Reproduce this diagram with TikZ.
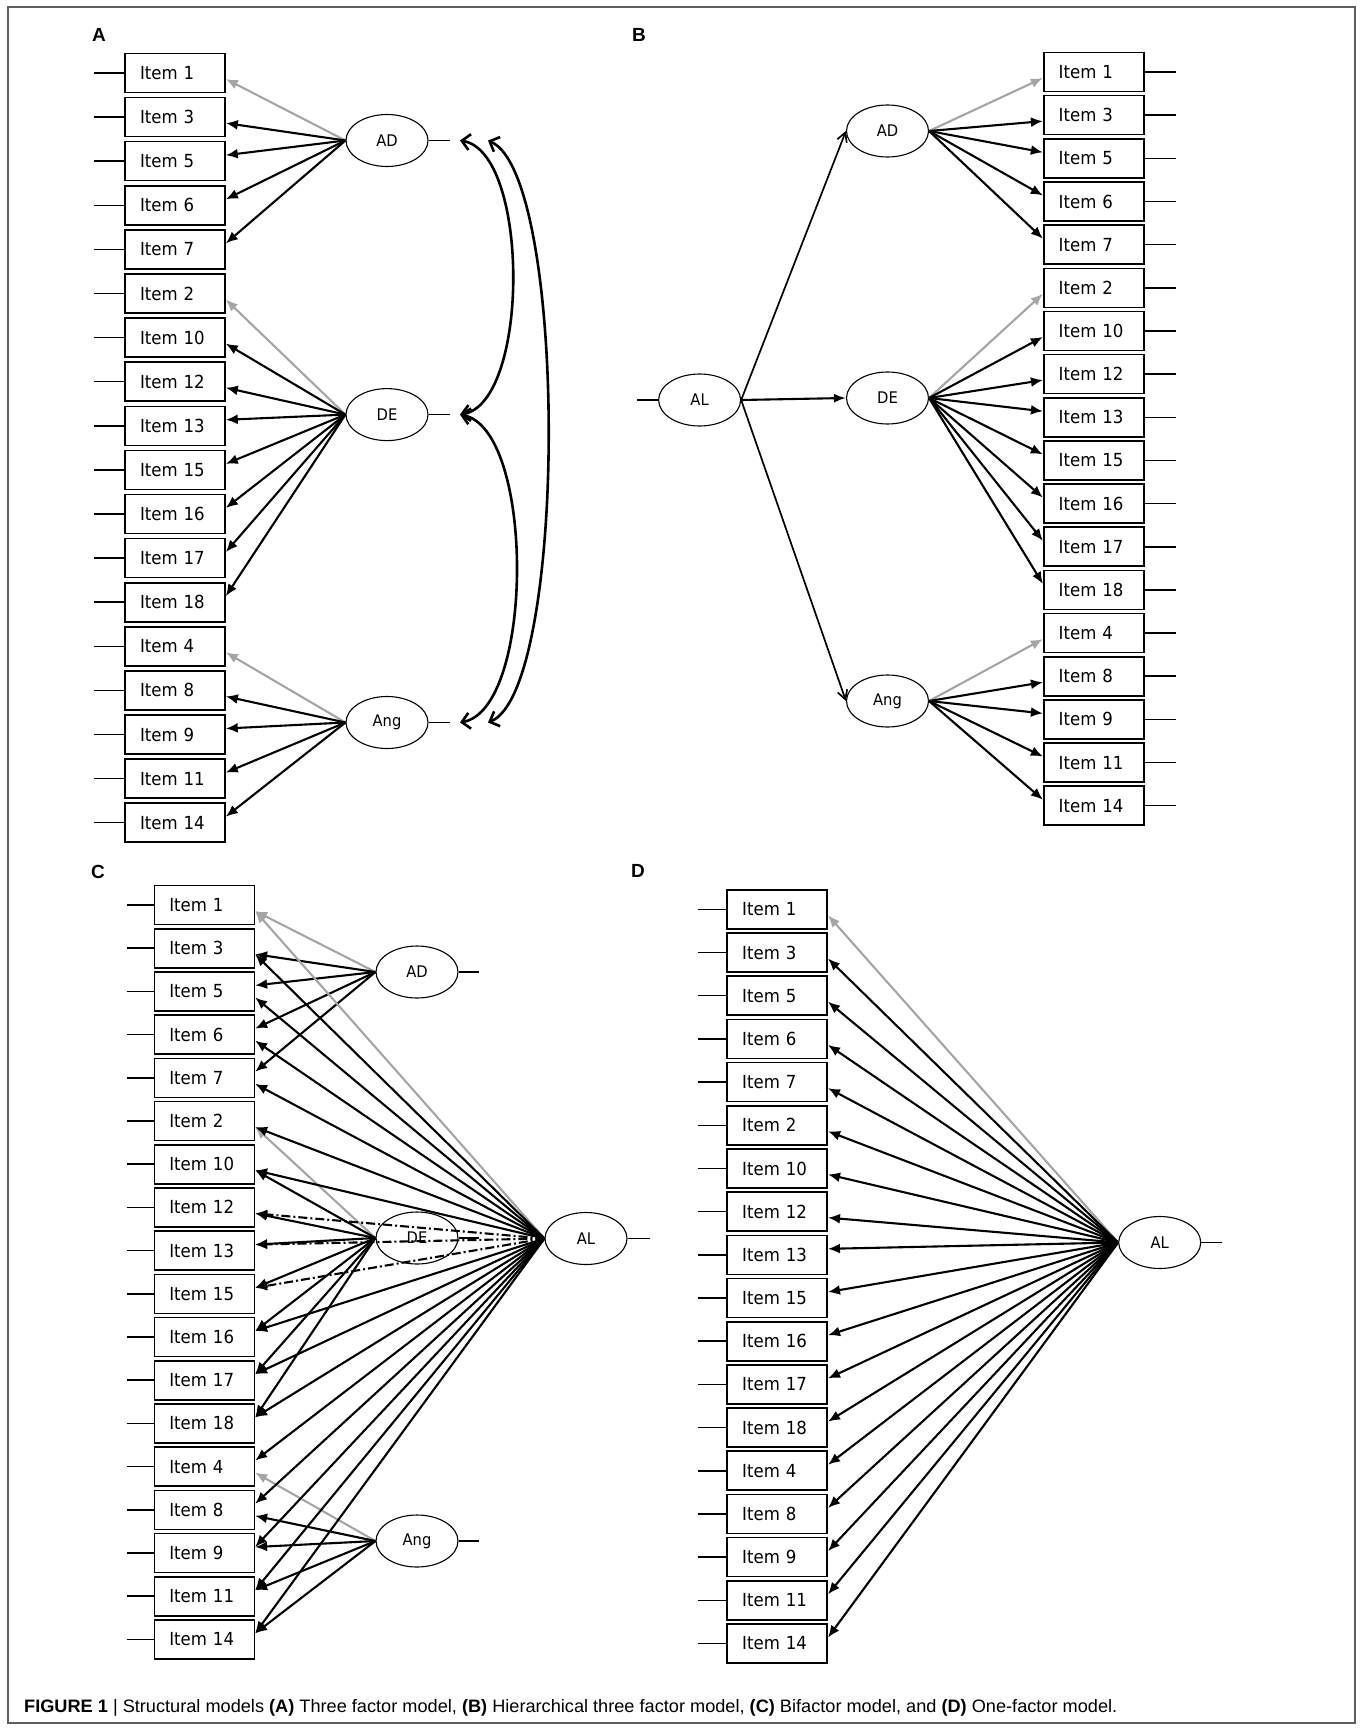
\documentclass[tikz,border=0pt]{standalone}
\usepackage{fontspec}
\usepackage{graphicx}
\usetikzlibrary{arrows.meta,calc,shapes.geometric}
\setmainfont{Liberation Sans}
\newfontfamily\itemfont[FakeStretch=0.92]{DejaVu Sans}
\definecolor{loadgray}{RGB}{165,165,165}
\definecolor{framegray}{RGB}{95,95,95}

\begin{document}
\begin{tikzpicture}[x=1pt,y=-1pt,
  item/.style={draw, line width=1.6pt, minimum height=39pt, text width=70pt,
    inner xsep=15pt, inner ysep=0pt, align=left,
    font=\itemfont\fontsize{18}{19}\selectfont},
  latent/.style={draw, ellipse, line width=1.1pt, minimum width=82pt,
    minimum height=52pt, inner sep=0pt,
    font=\itemfont\fontsize{16}{17}\selectfont},
  resid/.style={line width=1.5pt},
  load/.style={line width=2.1pt, -{Latex[length=12pt,width=10pt]}},
  refload/.style={load, draw=loadgray},
  crossload/.style={load, dash pattern=on 9pt off 3pt on 2pt off 3pt},
  hload/.style={line width=1.7pt, -{Straight Barb[length=9pt,width=10pt]}},
  hloadfill/.style={line width=2.1pt, -{Latex[length=12pt,width=9pt]}},
  cov/.style={line width=2.6pt,
    {Straight Barb[length=8pt,width=16pt]}-{Straight Barb[length=8pt,width=16pt]}},
  panel/.style={font=\bfseries\fontsize{19}{20}\selectfont, inner sep=0pt},
]
\useasboundingbox (0,0) rectangle (1362,1731);
\draw[framegray, line width=1.2pt] (8,7) rectangle (1355,1723);

% ================= Panel A: three correlated factors =================
\node[panel] (labA) at (99,35) {A};
\foreach \n [count=\k from 0] in {1,3,5,6,7,2,10,12,13,15,16,17,18,4,8,9,11,14} {
  \node[item] (a\n) at (175,{73+44.1*\k}) {Item \n};
  \coordinate (ae\n) at (94,{73+44.1*\k});
  \draw[resid] (ae\n) -- (a\n.west);
}
\node[latent] (aAD)  at (387,140.5) {AD};
\node[latent] (aDE)  at (387,414.6) {DE};
\node[latent] (aAng) at (387,722.5) {Ang};
\coordinate (aADr)  at (450,140.5);
\coordinate (aDEr)  at (450,414.6);
\coordinate (aAngr) at (450,722.5);
\draw[resid] (aAD.east) -- (aADr);
\draw[resid] (aDE.east) -- (aDEr);
\draw[resid] (aAng.east) -- (aAngr);

\draw[refload] (aAD.west) -- ($(a1.east)!6pt!(a1.east|-aAD.west)$);
\foreach \n in {3,5,6,7}
  \draw[load] (aAD.west) -- ($(a\n.east)!6pt!(a\n.east|-aAD.west)$);
\draw[refload] (aDE.west) -- ($(a2.east)!6pt!(a2.east|-aDE.west)$);
\foreach \n in {10,12,13,15,16,17,18}
  \draw[load] (aDE.west) -- ($(a\n.east)!6pt!(a\n.east|-aDE.west)$);
\draw[refload] (aAng.west) -- ($(a4.east)!6pt!(a4.east|-aAng.west)$);
\foreach \n in {8,9,11,14}
  \draw[load] (aAng.west) -- ($(a\n.east)!6pt!(a\n.east|-aAng.west)$);

% factor covariances
\coordinate (aADc)   at (460,140.5);
\coordinate (aADo)   at (488,140.5);
\coordinate (aDEc)   at (460,414.6);
\coordinate (aAngc)  at (460,722.5);
\coordinate (aAngo)  at (488,722.5);
\draw[cov] (aADc) .. controls (530,152) and (530,403) .. (aDEc);
\draw[cov] (aDEc) .. controls (535,428) and (535,709) .. (aAngc);
\draw[cov] (aADo) .. controls (568,175) and (568,690) .. (aAngo);

% ================= Panel B: hierarchical model =================
\node[panel] (labB) at (639,35) {B};
\foreach \n [count=\k from 0] in {1,3,5,6,7,2,10,12,13,15,16,17,18,4,8,9,11,14} {
  \node[item] (b\n) at (1093.7,{72+43.16*\k}) {Item \n};
  \coordinate (be\n) at (1176,{72+43.16*\k});
  \draw[resid] (b\n.east) -- (be\n);
}
\node[latent] (bAD)  at (887.5,131) {AD};
\node[latent] (bDE)  at (887.5,398) {DE};
\node[latent] (bAng) at (887.5,701) {Ang};
\node[latent] (bAL)  at (699.6,400) {AL};
\coordinate (bALr) at (637,400);
\draw[resid] (bALr) -- (bAL.west);

\draw[hload] (bAL.east) -- (bAD.west);
\draw[hloadfill] (bAL.east) -- (bDE.west);
\draw[hload] (bAL.east) -- (bAng.west);

\draw[refload] (bAD.east) -- ($(b1.west)!6pt!(b1.west|-bAD.east)$);
\foreach \n in {3,5,6,7}
  \draw[load] (bAD.east) -- ($(b\n.west)!6pt!(b\n.west|-bAD.east)$);
\draw[refload] (bDE.east) -- ($(b2.west)!6pt!(b2.west|-bDE.east)$);
\foreach \n in {10,12,13,15,16,17,18}
  \draw[load] (bDE.east) -- ($(b\n.west)!6pt!(b\n.west|-bDE.east)$);
\draw[refload] (bAng.east) -- ($(b4.west)!6pt!(b4.west|-bAng.east)$);
\foreach \n in {8,9,11,14}
  \draw[load] (bAng.east) -- ($(b\n.west)!6pt!(b\n.west|-bAng.east)$);

% ================= Panel C: bifactor model =================
\node[panel] (labC) at (98,872) {C};
\foreach \n [count=\k from 0] in {1,3,5,6,7,2,10,12,13,15,16,17,18,4,8,9,11,14} {
  \node[item] (c\n) at (204.3,{905+43.2*\k}) {Item \n};
  \coordinate (ce\n) at (127,{905+43.2*\k});
  \draw[resid] (ce\n) -- (c\n.west);
}
\node[latent] (cAD)  at (417,972) {AD};
\node[latent] (cDE)  at (417,1238) {DE};
\node[latent] (cAng) at (417,1541) {Ang};
\node[latent] (cAL)  at (586,1238.5) {AL};
\coordinate (cADr)  at (479,972);
\coordinate (cDEr)  at (479,1238);
\coordinate (cAngr) at (479,1541);
\coordinate (cALr)  at (649.5,1238.5);
\draw[resid] (cAD.east) -- (cADr);
\draw[resid] (cDE.east) -- (cDEr);
\draw[resid] (cAng.east) -- (cAngr);
\draw[resid] (cAL.east) -- (cALr);

\draw[refload] (cAD.west) -- ($(c1.east)!6pt!(c1.east|-cAD.west)$);
\foreach \n in {3,5,6,7}
  \draw[load] (cAD.west) -- ($(c\n.east)!6pt!(c\n.east|-cAD.west)$);
\draw[refload] (cDE.west) -- ($(c2.east)!6pt!(c2.east|-cDE.west)$);
\foreach \n in {10,12,13,15,16,17,18}
  \draw[load] (cDE.west) -- ($(c\n.east)!6pt!(c\n.east|-cDE.west)$);
\draw[refload] (cAng.west) -- ($(c4.east)!6pt!(c4.east|-cAng.west)$);
\foreach \n in {8,9,11,14}
  \draw[load] (cAng.west) -- ($(c\n.east)!6pt!(c\n.east|-cAng.west)$);

\draw[refload] (cAL.west) -- ($(c1.east)!6pt!(c1.east|-cAL.west)$);
\foreach \n in {3,5,6,7,2,10,16,17,18,4,8,9,11,14}
  \draw[load] (cAL.west) -- ($(c\n.east)!6pt!(c\n.east|-cAL.west)$);
\foreach \n in {12,13,15}
  \draw[crossload] (cAL.west) -- ($(c\n.east)!6pt!(c\n.east|-cAL.west)$);

% ================= Panel D: one-factor model =================
\node[panel] (labD) at (638,871) {D};
\foreach \n [count=\k from 0] in {1,3,5,6,7,2,10,12,13,15,16,17,18,4,8,9,11,14} {
  \node[item] (d\n) at (777.2,{909.3+43.19*\k}) {Item \n};
  \coordinate (de\n) at (697.7,{909.3+43.19*\k});
  \draw[resid] (de\n) -- (d\n.west);
}
\node[latent] (dAL) at (1159.7,1242.5) {AL};
\coordinate (dALr) at (1222,1242.5);
\draw[resid] (dAL.east) -- (dALr);
\draw[refload] (dAL.west) -- ($(d1.east)!6pt!(d1.east|-dAL.west)$);
\foreach \n in {3,5,6,7,2,10,12,13,15,16,17,18,4,8,9,11,14}
  \draw[load] (dAL.west) -- ($(d\n.east)!6pt!(d\n.east|-dAL.west)$);

% ================= Caption =================
\node[anchor=base west, inner sep=0pt] (cap) at (24,1712)
  {\resizebox{1093pt}{\height}{\fontsize{18}{19}\selectfont\textbf{FIGURE 1} | Structural models \textbf{(A)} Three factor model, \textbf{(B)} Hierarchical three factor model, \textbf{(C)} Bifactor model, and \textbf{(D)} One-factor model.}};
\end{tikzpicture}
\end{document}
